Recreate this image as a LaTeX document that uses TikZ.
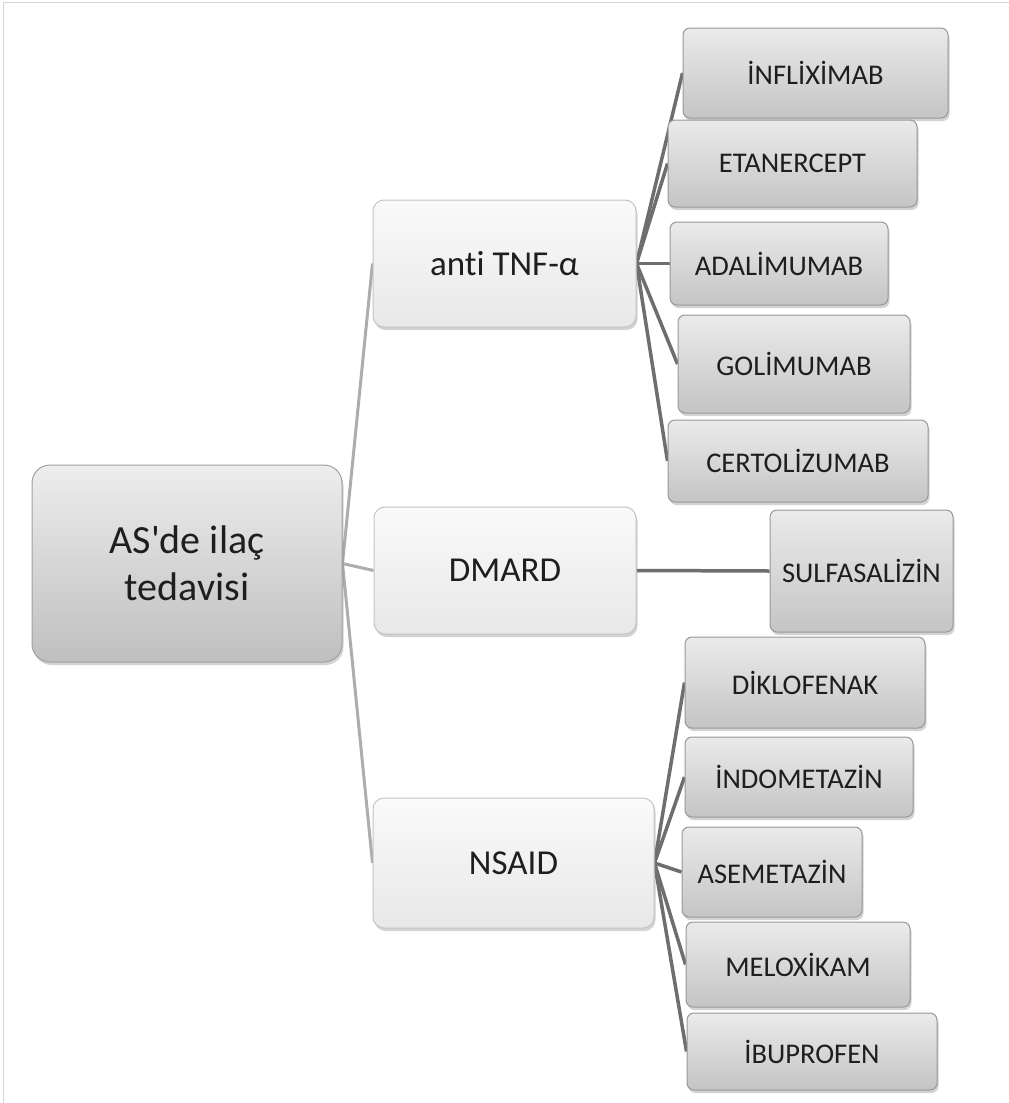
\documentclass[tikz,border=0pt]{standalone}
\usepackage{fontspec}
\setmainfont{Carlito}[Ligatures=NoCommon]
\usetikzlibrary{shadows,backgrounds}

\definecolor{inkgrey}{HTML}{1E1E1E}
\definecolor{framegrey}{HTML}{D4D4D4}
\definecolor{rootline}{HTML}{A0A0A0}
\definecolor{catline}{HTML}{C4C4C4}
\definecolor{leafline}{HTML}{989898}
\definecolor{rootlinkgrey}{HTML}{ADADAD}
\definecolor{leaflinkgrey}{HTML}{6E6E6E}

\begin{document}
\begin{tikzpicture}[x=1pt,y=-1pt,
  softshadow/.style={drop shadow={shadow xshift=1.5pt,shadow yshift=-3pt,opacity=.35}},
  rootbox/.style n args={2}{draw=rootline,line width=1pt,rounded corners=18pt,
    top color=black!7,bottom color=black!25,softshadow,text=inkgrey,
    minimum width=#1pt,minimum height=#2pt,inner sep=0pt,align=center,
    font=\fontsize{40}{47}\selectfont},
  catbox/.style n args={2}{draw=catline,line width=1pt,rounded corners=11pt,
    top color=black!2,bottom color=black!9,softshadow,text=inkgrey,
    minimum width=#1pt,minimum height=#2pt,inner sep=0pt,
    font=\fontsize{35}{40}\selectfont},
  leafbox/.style n args={2}{draw=leafline,line width=1pt,rounded corners=7pt,
    top color=black!8,bottom color=black!23,softshadow,text=inkgrey,
    minimum width=#1pt,minimum height=#2pt,inner sep=0pt,
    font=\fontsize{28.5}{32}\selectfont},
  rootlink/.style={rootlinkgrey,line width=3pt},
  leaflink/.style={leaflinkgrey,line width=3.5pt}]
\useasboundingbox (0,0) rectangle (1009,1103);
\draw[framegrey,line width=1pt] (3,1103) -- (3,2) -- (1009,2);

% root and the three groups
\node[rootbox={310}{197}] (root) at (187,563.5) {AS\textquotesingle de ilaç\\tedavisi};
\node[catbox={263}{127}] (tnf) at (504.5,263.5) {anti TNF-α};
\node[catbox={262}{127}] (dmard) at (505,570.5) {DMARD};
\node[catbox={281}{130}] (nsaid) at (513.5,863) {NSAID};

% anti TNF-alpha drugs
\node[leafbox={265}{90}] (inflix) at (815.5,73) {İNFLİXİMAB};
\node[leafbox={249}{87}] (etaner) at (792.5,163.5) {ETANERCEPT};
\node[leafbox={218}{83}] (adali) at (779,263.5) {ADALİMUMAB};
\node[leafbox={232}{98}] (golim) at (794,364) {GOLİMUMAB};
\node[leafbox={260}{82}] (certo) at (798,461) {CERTOLİZUMAB};

% DMARD
\node[leafbox={183}{122}] (sulfa) at (861.5,571) {SULFASALİZİN};

% NSAID drugs
\node[leafbox={240}{91}] (diklo) at (805,682.5) {DİKLOFENAK};
\node[leafbox={228}{80}] (indo) at (799,777) {İNDOMETAZİN};
\node[leafbox={180}{90}] (aseme) at (772,872) {ASEMETAZİN};
\node[leafbox={224}{85}] (melox) at (798,964.5) {MELOXİKAM};
\node[leafbox={250}{77}] (ibupro) at (812,1051.5) {İBUPROFEN};

\begin{scope}[on background layer]
\foreach \c in {tnf,dmard,nsaid}
\draw[rootlink] (root.east) -- (\c.west);
\foreach \l in {inflix,etaner,adali,golim,certo}
\draw[leaflink] (tnf.east) -- (\l.west);
\draw[leaflink] (dmard.east) -- (sulfa.west);
\foreach \l in {diklo,indo,aseme,melox,ibupro}
\draw[leaflink] (nsaid.east) -- (\l.west);
\end{scope}
\end{tikzpicture}
\end{document}
